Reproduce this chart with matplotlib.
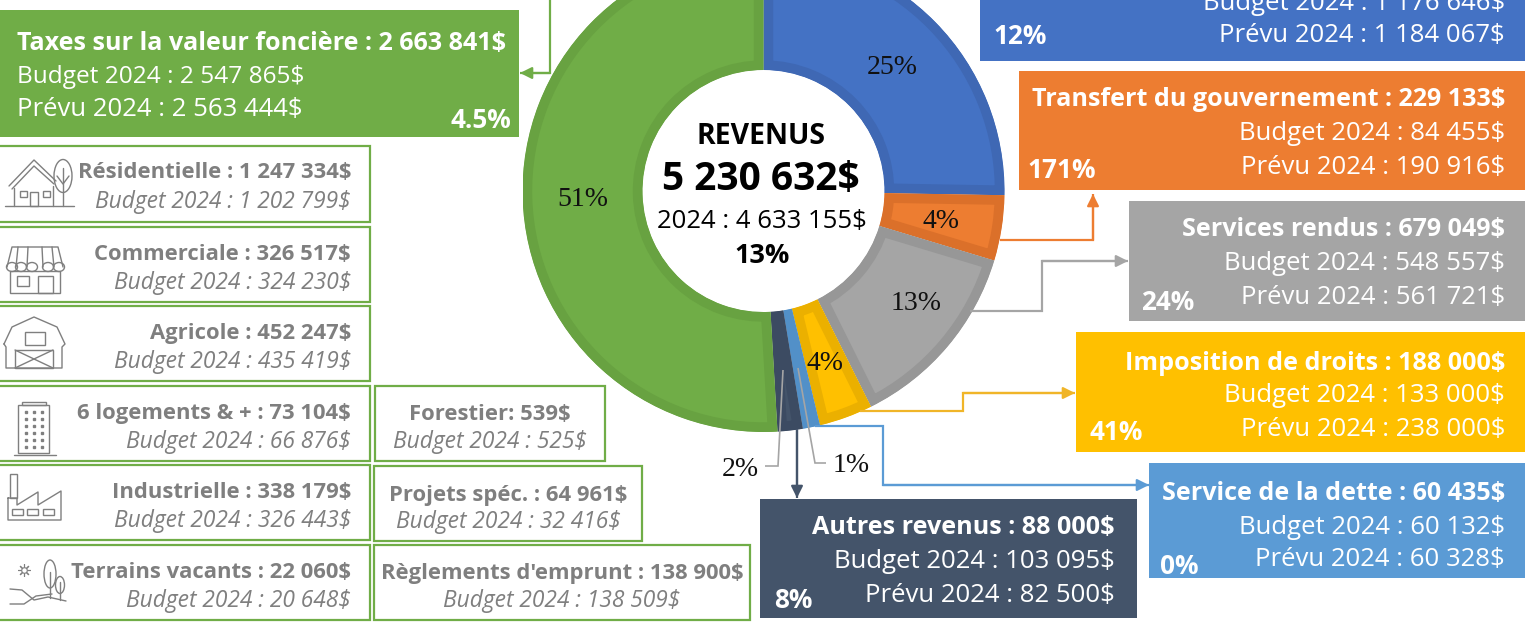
import matplotlib
matplotlib.use("Agg")
import matplotlib.pyplot as plt
from matplotlib.patches import Rectangle, Ellipse

W, H = 1526, 635
plt.rcParams["font.family"] = ["Open Sans", "DejaVu Sans"]

# Revenue groups, clockwise from the top of the donut
# (first title is cut off in the picture, only its value share shows)
categories = ["", "Transfert du gouvernement", "Services rendus", "Imposition de droits",
              "Service de la dette", "Autres revenus", "Taxes sur la valeur foncière"]
values = [1322174, 229133, 679049, 188000, 60435, 88000, 2663841]
budget = [1176646, 84455, 548557, 133000, 60132, 103095, 2547865]
prevu = [1184067, 190916, 561721, 238000, 60328, 82500, 2563444]
change = ["12%", "171%", "24%", "41%", "0%", "8%", "4.5%"]
donut_labels = ["25%", "4%", "13%", "4%", "", "", "51%"]

total = 5230632
total_2024 = 4633155
total_change = "13%"

# Property tax detail
tax_names = ["Résidentielle", "Commerciale", "Agricole", "6 logements & +", "Industrielle", "Terrains vacants"]
tax_values = [1247334, 326517, 452247, 73104, 338179, 22060]
tax_budget = [1202799, 324230, 435419, 66876, 326443, 20648]
other_names = ["Forestier", "Projets spéc.", "Règlements d'emprunt"]
other_values = [539, 64961, 138900]
other_budget = [525, 32416, 138509]

fills = ["#4472C4", "#ED7D31", "#A5A5A5", "#FFC000", "#5B9BD5", "#44546A", "#70AD47"]
edges = ["#3F68B4", "#DB702A", "#979797", "#EBB000", "#5290C8", "#3C4B62", "#68A241"]
GREY = "#7F7F7F"


def money(n):
    return f"{n:,}".replace(",", " ") + "$"


# donut in its own axes, placed in pixels
cx, cy, R = 763.5, 191, 241
fig = plt.figure(figsize=(W / 100, H / 100), dpi=100)
pie_ax = fig.add_axes([(cx - R) / W, 1 - (cy + R) / H, 2 * R / W, 2 * R / H], zorder=1)
wedges, _ = pie_ax.pie(values, colors=fills, startangle=90, counterclock=False,
                       wedgeprops={"width": 120 / R})
pie_ax.set_xlim(-1, 1)
pie_ax.set_ylim(-1, 1)
for w, e in zip(wedges, edges):
    # thick edge clipped to the wedge gives the inner darker band
    w.set_edgecolor(e)
    w.set_linewidth(14)
    w.set_clip_on(True)
    w.set_clip_path(w)

# overlay in pixel coordinates for boxes, connectors and text
ax = fig.add_axes([0, 0, 1, 1], zorder=2)
ax.set_xlim(0, W)
ax.set_ylim(H, 0)
ax.axis("off")
ax.patch.set_alpha(0)


def txt(x, y, s, size=15, color="white", weight="normal", ha="right", style="normal", family=None):
    kw = {"family": family} if family else {}
    ax.text(x, y, s, fontsize=size, color=color, fontweight=weight, ha=ha, va="center", fontstyle=style, **kw)


def connector(points, color, lw=1.6, arrow=True):
    xs, ys = zip(*points)
    ax.plot(xs, ys, color=color, lw=lw, solid_joinstyle="miter", solid_capstyle="butt")
    if arrow:
        ax.annotate("", xy=points[-1], xytext=points[-2],
                    arrowprops={"arrowstyle": "-|>,head_width=0.35,head_length=0.7", "color": color,
                                "lw": lw, "shrinkA": 0, "shrinkB": 0})


def icon_line(points, lw=1.0):
    xs, ys = zip(*points)
    ax.plot(xs, ys, color=GREY, lw=lw, solid_capstyle="round")


def icon_rect(x0, y0, x1, y1, lw=1.0):
    ax.add_patch(Rectangle((x0, y0), x1 - x0, y1 - y0, fill=False, ec=GREY, lw=lw))


# big coloured boxes: (x0, y0, x1, y1), text right edge, three text rows, pct position
boxes = [
    (980, -70, 1525, 61, 1505, (-32, 3, 36), (993, 37)),
    (1019, 71, 1525, 190, 1505, (100, 133, 167), (1027, 170)),
    (1129, 201, 1525, 321, 1505, (230, 263, 297), (1141, 303)),
    (1076, 332, 1525, 452, 1505, (363, 396, 430), (1090, 432)),
    (1149, 463, 1525, 578, 1505, (493, 527, 560), (1160, 566)),
    (760, 499, 1137, 618, 1115, (528, 561, 595), (774, 601)),
    (-2, 10, 519, 137, 17, (43, 77, 110), (511, 120)),
]
for i, (x0, y0, x1, y1, tx, rows, pct) in enumerate(boxes):
    ax.add_patch(Rectangle((x0, y0), x1 - x0, y1 - y0, fc=fills[i], ec="none"))
    ha = "left" if i == 6 else "right"
    if categories[i]:
        txt(tx, rows[0], f"{categories[i]} : {money(values[i])}", 18.1, weight="bold", ha=ha)
    txt(tx, rows[1], f"Budget 2024 : {money(budget[i])}", 17.6 if i == 6 else 18.5, ha=ha)
    txt(tx, rows[2], f"Prévu 2024 : {money(prevu[i])}", 18.5, ha=ha)
    txt(pct[0], pct[1], change[i], 18.8, weight="bold", ha="right" if i == 6 else "left")

# connectors
connector([(550, -2), (550, 73), (520, 73)], "#70AD47")
connector([(1000, 240), (1093, 240), (1093, 194)], "#ED7D31")
connector([(970, 311), (1042, 311), (1042, 261), (1128, 261)], "#A5A5A5")
connector([(860, 411), (963, 411), (963, 393), (1075, 393)], "#F0B528")
connector([(815, 426), (883, 426), (883, 485), (1149, 485)], "#5B9BD5")
connector([(797, 430), (797, 498)], "#44546A")
connector([(783, 370), (778, 466), (765, 466)], "#A5A5A5", 1.2, False)
connector([(798, 368), (815, 463), (826, 463)], "#A5A5A5", 1.2, False)

# donut percentages
label_pos = [(892, 67), (941, 222), (916, 304), (825, 364), None, None, (583, 199)]
for s, p in zip(donut_labels, label_pos):
    if p:
        txt(p[0], p[1], s, 20, color="#111111", ha="center", family="Liberation Serif")
txt(740, 469, "2%", 20, color="#111111", ha="center", family="Liberation Serif")
txt(851, 466, "1%", 20, color="#111111", ha="center", family="Liberation Serif")

# centre of the donut
txt(761, 136, "REVENUS", 20.4, color="black", weight="bold", ha="center")
txt(761, 179, money(total), 28, color="black", weight="bold", ha="center")
txt(762, 222, f"2024 : {money(total_2024)}", 18.5, color="black", ha="center")
txt(762, 256, total_change, 19.5, color="black", weight="bold", ha="center")

# property tax detail boxes
tax_rows = [(146, 222), (227, 302), (306, 381), (386, 461), (465, 540), (545, 620)]
for name, v, b, (y0, y1) in zip(tax_names, tax_values, tax_budget, tax_rows):
    ax.add_patch(Rectangle((-2, y0), 372, y1 - y0, fill=False, ec="#70AD47", lw=1.6))
    txt(351, y0 + 27, f"{name} : {money(v)}", 15.8, color=GREY, weight="bold")
    txt(351, y0 + 56, f"Budget 2024 : {money(b)}", 16.4, color=GREY, style="italic")

other_boxes = [(375, 386, 605, 461), (374, 466, 642, 541), (374, 545, 750, 620)]
for j, (name, v, b, (x0, y0, x1, y1)) in enumerate(zip(other_names, other_values, other_budget, other_boxes)):
    ax.add_patch(Rectangle((x0, y0), x1 - x0, y1 - y0, fill=False, ec="#70AD47", lw=1.6))
    sep = ": " if j == 0 else " : "
    xc = (x0 + x1) / 2
    txt(xc, y0 + 29, f"{name}{sep}{money(v)}", 15.8, color=GREY, weight="bold", ha="center")
    txt(xc, y0 + 56, f"Budget 2024 : {money(b)}", 16.4, color=GREY, style="italic", ha="center")

# house icon
icon_line([(9, 186), (34, 160), (56, 181)])
icon_line([(12, 189), (34, 166), (54, 184)])
icon_line([(5, 206), (74, 206)])
icon_line([(14, 188), (14, 206)])
icon_line([(53, 186), (53, 206)])
icon_rect(20, 191, 27, 197)
icon_rect(30, 192, 38, 206)
icon_rect(43, 191, 50, 197)
ax.add_patch(Ellipse((63, 176), 18, 33, fill=False, ec=GREY, lw=1))
icon_line([(63, 168), (63, 206)])
icon_line([(57, 176), (63, 184), (69, 176)])

# shop icon
icon_line([(7, 267), (12, 247), (58, 247), (63, 267)])
for a, b in [(18, 16), (28, 27), (42, 43), (52, 54)]:
    icon_line([(a, 247), (b, 267)])
for a in [7, 16, 27, 43, 54]:
    ax.add_patch(Ellipse((a + 5, 267), 11, 9, fill=False, ec=GREY, lw=1))
icon_rect(10, 271, 60, 293)
icon_rect(17, 276, 29, 286)
icon_rect(38, 276, 53, 293)

# barn icon
icon_line([(4, 344), (12, 327), (34, 317), (57, 327), (65, 344), (62, 347), (62, 368), (6, 368), (6, 347), (4, 344)])
icon_rect(25, 332, 45, 345)
icon_rect(15, 350, 53, 368)
icon_line([(15, 350), (53, 368)])
icon_line([(15, 368), (53, 350)])

# apartment building icon
icon_rect(18, 405, 49, 453)
icon_rect(22, 402, 46, 405)
icon_line([(14, 455), (56, 455)])
ax.plot([26 + 8 * c for c in range(3) for r in range(6)], [412 + 7 * r for c in range(3) for r in range(6)],
        ls="none", marker="s", ms=2, color=GREY)

# factory icon
icon_rect(10, 474, 17, 498)
icon_line([(8, 498), (8, 520), (61, 520), (61, 491), (38, 505), (38, 492), (17, 505), (17, 498), (8, 498)])
for x0 in (12, 27, 43):
    icon_rect(x0, 509, x0 + 11, 515)

# vacant land icon
ax.plot([24], [570], marker=(8, 2), ms=9, color=GREY, mew=0.8)
ax.plot([24], [570], marker="o", ms=4, mfc="white", color=GREY, mew=0.8)
ax.add_patch(Ellipse((50, 574), 12, 28, fill=False, ec=GREY, lw=1))
ax.add_patch(Ellipse((60, 585), 9, 17, fill=False, ec=GREY, lw=1))
icon_line([(50, 572), (50, 598)])
icon_line([(60, 582), (60, 600)])
icon_line([(10, 589), (22, 590), (34, 600), (48, 597), (66, 601)])
icon_line([(10, 604), (24, 604), (36, 596), (52, 594)])

fig.savefig("out.png", dpi=100)
